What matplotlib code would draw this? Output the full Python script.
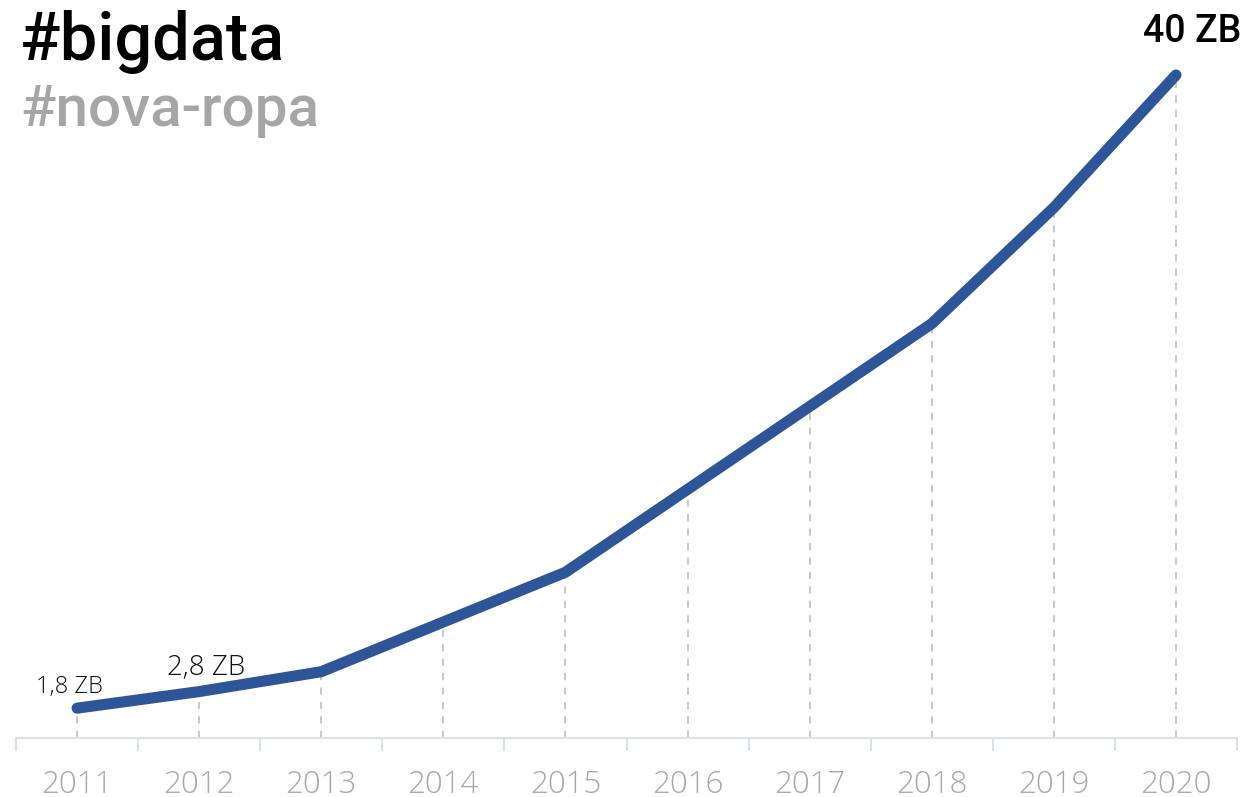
import matplotlib.pyplot as plt

# data
years = ['2011', '2012', '2013', '2014', '2015', '2016', '2017', '2018', '2019', '2020']
zettabytes = [1.8, 2.8, 4.0, 7.0, 10.0, 15.0, 20.0, 25.0, 32.0, 40.0]
point_labels = {0: '1,8 ZB', 1: '2,8 ZB'}

line_color = '#2e5597'

fig = plt.figure(figsize=(12.51, 7.97), dpi=100)
ax = fig.add_axes([16 / 1251, 59 / 797, 1221 / 1251, 663 / 797])

x = list(range(len(years)))
ax.set_xlim(-0.5, len(years) - 0.5)
ax.set_ylim(0, 40)

# dashed drop lines
for xi, v in zip(x, zettabytes):
    ax.plot([xi, xi], [0, v], color='#c4c4c4', lw=1.3, ls=(0, (4, 4)), zorder=1)

ax.plot(x, zettabytes, color=line_color, lw=8, solid_capstyle='round',
        solid_joinstyle='round', clip_on=False, zorder=3)

# labels on the first points
ax.text(0 - 0.06, 1.8 + 0.55, point_labels[0], ha='center', va='bottom',
        fontsize=17, family='Open Sans', fontweight='light', color='#111111')
ax.text(1 + 0.06, 2.8 + 0.55, point_labels[1], ha='center', va='bottom',
        fontsize=20, family='Open Sans', fontweight='light', color='#111111')

# axis styling
for s in ['top', 'right', 'left']:
    ax.spines[s].set_visible(False)
ax.spines['bottom'].set_color('#dde1ea')
ax.spines['bottom'].set_linewidth(1.5)
ax.set_yticks([])
ax.set_xticks(x)
ax.set_xticklabels(years, family='Open Sans', fontweight='light', fontsize=22.5, color='#a9a9a9')
ax.tick_params(axis='x', length=0, pad=22)
ax.set_xticks([i - 0.5 for i in range(len(years) + 1)], minor=True)
ax.tick_params(axis='x', which='minor', length=9, width=1.5, color='#dde1ea')

# titles
fig.text(20 / 1251, 1 - 60 / 797, '#bigdata', fontsize=48, family='Roboto',
         fontweight='medium', color='#000000')
fig.text(20 / 1251, 1 - 126 / 797, '#nova-ropa', fontsize=42, family='Roboto',
         fontweight='medium', color='#a6a6a6')
fig.text(1241 / 1251, 1 - 42 / 797, '40 ZB', fontsize=27, family='Roboto',
         fontweight='medium', color='#000000', ha='right')

fig.savefig('out.png', dpi=100)
